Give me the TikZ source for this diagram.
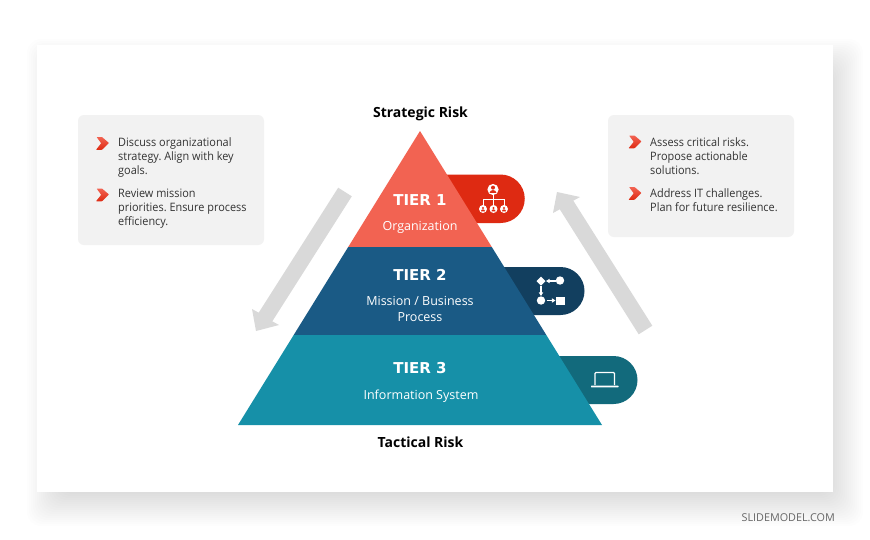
\documentclass[tikz,border=0pt]{standalone}
\usepackage{fontspec}
\setmainfont{Open Sans}
\newfontfamily\tierfont{DejaVu Sans}
\newfontfamily\bodyfont[FakeStretch=0.94]{Open Sans}
\usetikzlibrary{calc,arrows.meta}
\definecolor{tierA}{HTML}{F26352}
\definecolor{tierB}{HTML}{1A5A85}
\definecolor{tierC}{HTML}{1690A8}
\definecolor{pillA}{HTML}{DE2A12}
\definecolor{pillB}{HTML}{123F5F}
\definecolor{pillC}{HTML}{126A7C}
\definecolor{boxgray}{HTML}{F2F2F2}
\definecolor{arrowgray}{HTML}{D9D9D9}
\definecolor{bodytext}{HTML}{333333}
\tikzset{
  tiertitle/.style={text=white,font=\tierfont\fontsize{15}{16}\selectfont\bfseries,inner sep=0pt},
  tiersub/.style={text=white,font=\fontsize{12.5}{15.5}\selectfont,align=center,inner sep=0pt},
  risklabel/.style={text=black,font=\fontsize{14}{17}\selectfont\bfseries,inner sep=0pt},
  bullettext/.style={anchor=north west,align=left,text=bodytext,inner sep=0pt,font=\bodyfont\frenchspacing\fontsize{11.6}{14}\selectfont},
  infobox/.style={fill=boxgray,rounded corners=6pt},
  bigarrow/.style={fill=arrowgray},
  iconline/.style={draw=white,line width=1pt},
  iconarrow/.style={draw=white,line width=1.1pt,-{Triangle[width=4.2pt,length=3.6pt]}}
}
\newcommand{\chev}[2]{%
  \shade[top color=tierA,bottom color=pillA,rounded corners=0.6pt,shift={(#1,#2)}]
    (0.6,0) -- (6,0) -- (13,6) -- (6,12.8) -- (0,12.8) -- (5.2,6.3) -- cycle;}
\newcommand{\person}[2]{%
  \fill[white,shift={(#1,#2)}] (0,0) circle (4);
  \fill[pillA,shift={(#1,#2)}] (0,-1.1) circle (1.1);
  \fill[pillA,shift={(#1,#2)}] (-2,2.3) arc (180:360:2 and 2) -- cycle;}
\begin{document}
\begin{tikzpicture}[x=1pt,y=-1pt]
\useasboundingbox (0,0) rectangle (870,539);
\fill[white] (0,0) rectangle (870,539);
% soft shadow of the slide
\foreach \r in {-20,-18,...,20}{
  \fill[black,opacity=0.0075,rounded corners=14pt]
    ({37+10-\r},{45+14-\r}) rectangle ({833+10+\r},{492+14+\r});
}
\fill[white] (37,45) rectangle (833,492);
% info boxes
\fill[infobox] (78,115) rectangle (264,245);
\fill[infobox] (608,115) rectangle (794,237);
% big arrows
\fill[bigarrow] (351.8,196.3) -- (338.2,187.7) -- (258.7,312.7) -- (252,309) -- (256,331) -- (279,325) -- (272.3,321.3) -- cycle;
\fill[bigarrow] (652.3,325.7) -- (638.7,334.3) -- (559.8,209.3) -- (553,213) -- (557,192) -- (580,197) -- (573.3,200.7) -- cycle;
% pills
\fill[pillA] (440,174.5) -- (500.5,174.5) arc (-90:90:24.25) -- (440,223) -- cycle;
\fill[pillB] (500,267) -- (560.5,267) arc (-90:90:24) -- (500,315) -- cycle;
\fill[pillC] (550,356) -- (613.5,356) arc (-90:90:24) -- (550,404) -- cycle;
% pyramid
\fill[tierA] (420,131) -- (491.8,247) -- (348.2,247) -- cycle;
\fill[tierB] (348.2,247) -- (491.8,247) -- (546.3,335) -- (293.7,335) -- cycle;
\fill[tierC] (293.7,335) -- (546.3,335) -- (602,425) -- (238,425) -- cycle;
% labels
\node[risklabel] (strategic) at (420.5,113.5) {Strategic Risk};
\node[risklabel] (tactical) at (420.5,442.5) {Tactical Risk};
\node[tiertitle] (t1) at (420,200.5) {TIER 1};
\node[tiersub] (s1) at (420,227) {Organization};
\node[tiertitle] (t2) at (420,274.5) {TIER 2};
\node[tiersub] (s2) at (420,309) {Mission / Business\\Process};
\node[tiertitle] (t3) at (420,368.5) {TIER 3};
\node[tiersub] (s3) at (421,396) {Information System};
% bullets
\chev{96}{137}
\chev{96}{188.5}
\chev{628.5}{135.5}
\chev{628.5}{187}
\node[bullettext] (b1) at (118,137.5) {Discuss organizational\\strategy. Align with key\\goals.};
\node[bullettext] (b2) at (118,189) {Review mission\\priorities. Ensure process\\efficiency.};
\node[bullettext] (b3) at (650,137) {Assess critical risks.\\Propose actionable\\solutions.};
\node[bullettext] (b4) at (650,188.5) {Address IT challenges.\\Plan for future resilience.};
% org icon
\draw[iconline] (493,195) -- (493,206) (483,206) -- (483,199.5) -- (504,199.5) -- (504,206);
\fill[white] (493,189.5) circle (5.6);
\fill[pillA] (493,187.6) circle (2);
\fill[pillA] (489.6,192.8) arc (180:360:3.4 and 2.8) -- cycle;
\person{483}{209}
\person{493.5}{209}
\person{504}{209}
% process icon
\fill[white] (541,276.5) -- (545.5,281) -- (541,285.5) -- (536.5,281) -- cycle;
\fill[white] (560,280.5) circle (4.2);
\draw[iconarrow] (555.5,281) -- (546,281);
\draw[iconarrow] (541,286) -- (541,296);
\fill[white] (541,300.5) circle (4.2);
\draw[iconarrow] (546.5,300.5) -- (555.5,300.5);
\fill[white] (556,296.5) rectangle (564.5,305);
% laptop icon
\draw[white,line width=1.3pt,rounded corners=1pt] (595,385) -- (595,372.5) -- (614.5,372.5) -- (614.5,385);
\fill[white,rounded corners=0.5pt] (591,385.5) rectangle (618.5,387.4);
% watermark
\node[anchor=east,text=black!60,inner sep=0pt,font=\fontsize{10.8}{13}\selectfont] (wm) at (835,517.5) {SLIDEMODEL.COM};
\end{tikzpicture}
\end{document}
